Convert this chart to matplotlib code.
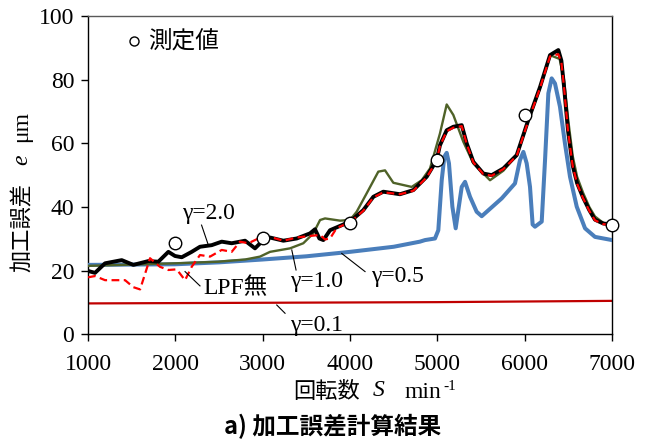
import matplotlib
matplotlib.use("Agg")
import matplotlib.pyplot as plt
from matplotlib.lines import Line2D

plt.rcParams["font.family"] = ["Liberation Serif", "Noto Sans CJK JP"]

# 測定値
meas_s = [2000, 3000, 4000, 5000, 6000, 7000]
meas_e = [28.7, 30.1, 35.0, 54.6, 69.0, 34.3]

# gamma = 2.0
g20_s = [1000, 1080, 1195, 1386, 1519, 1690, 1805, 1920, 1996, 2073, 2187, 2282,
         2416, 2531, 2645, 2798, 2912, 2989, 3084, 3237, 3390, 3542, 3599, 3649,
         3695, 3771, 3848, 4000, 4152, 4267, 4381, 4572, 4725, 4878, 4992, 5030,
         5107, 5183, 5279, 5336, 5412, 5527, 5622, 5756, 5909, 6041, 6176, 6290,
         6385, 6420, 6450, 6496, 6550, 6600, 6668, 6740, 6805, 6900, 7000]
g20_e = [19.9, 19.3, 22.3, 23.3, 21.8, 23.0, 22.8, 25.9, 24.6, 24.2, 25.9, 27.5,
         28.0, 29.1, 28.6, 29.4, 27.0, 29.1, 30.4, 29.4, 30.1, 31.7, 33.0, 30.1,
         29.6, 32.7, 33.6, 35.4, 39.0, 43.2, 44.8, 44.0, 45.3, 49.5, 54.7, 59.4,
         64.1, 65.2, 65.7, 60.0, 54.2, 50.5, 50.0, 52.1, 56.3, 67.3, 77.7, 87.7,
         89.3, 86.0, 78.0, 64.0, 53.0, 47.5, 43.0, 39.0, 36.0, 34.8, 34.5]

# LPF無
raw_s = [1000, 1080, 1195, 1424, 1519, 1596, 1710, 1824, 1920, 2015, 2111, 2187,
         2282, 2397, 2531, 2645, 2740, 2836, 2950, 3084, 3237, 3390, 3542, 3657,
         3714, 3771, 3848, 4000, 4152, 4267, 4381, 4572, 4725, 4878, 4992, 5030,
         5107, 5183, 5279, 5336, 5412, 5527, 5622, 5756, 5909, 6041, 6176, 6290,
         6385, 6420, 6450, 6496, 6550, 6600, 6668, 6740, 6805, 6900, 7000]
raw_e = [17.9, 18.3, 17.0, 17.0, 14.8, 14.1, 23.9, 21.2, 20.2, 20.4, 17.0, 21.2,
         24.9, 24.4, 26.5, 25.9, 29.1, 28.6, 30.1, 30.6, 29.4, 30.4, 30.9, 31.2,
         29.8, 30.1, 33.4, 35.2, 38.8, 43.0, 44.6, 44.0, 45.1, 49.3, 54.5, 59.2,
         63.8, 64.9, 65.4, 59.8, 54.0, 50.3, 49.8, 51.9, 56.1, 67.0, 77.4, 87.3,
         88.0, 85.5, 77.8, 63.8, 52.8, 47.3, 42.8, 38.8, 35.8, 34.6, 34.3]

# gamma = 1.0
g10_s = [1000, 1500, 2000, 2490, 2800, 2969, 3084, 3313, 3465, 3580, 3657, 3714,
         3886, 4000, 4076, 4191, 4324, 4401, 4496, 4706, 4821, 4916, 5030, 5107,
         5183, 5297, 5412, 5603, 5756, 5909, 6041, 6176, 6290, 6400, 6450, 6500,
         6550, 6600, 6668, 6740, 6805, 6900, 7000]
g10_e = [21.5, 21.9, 22.3, 22.8, 23.5, 24.4, 25.9, 27.0, 28.6, 31.7, 35.9, 36.4,
         35.7, 35.9, 38.5, 44.3, 51.1, 51.5, 47.6, 46.3, 48.4, 52.1, 63.1, 72.2,
         68.9, 60.5, 53.7, 48.4, 51.4, 56.3, 67.0, 77.5, 87.7, 86.5, 80.0, 67.0,
         56.0, 49.5, 44.5, 40.0, 37.0, 35.0, 34.3]

# gamma = 0.5
g05_s = [1000, 1500, 2000, 2500, 3000, 3500, 4000, 4500, 4800, 4859, 4973, 5011,
         5050, 5080, 5107, 5133, 5172, 5210, 5240, 5279, 5317, 5374, 5450, 5508,
         5737, 5889, 5946, 5985, 6023, 6061, 6091, 6118, 6195, 6233, 6271, 6309,
         6347, 6404, 6461, 6519, 6596, 6691, 6805, 7000]
g05_e = [21.8, 21.9, 22.0, 22.6, 23.5, 24.5, 25.9, 27.5, 29.1, 29.6, 30.1, 32.7,
         48.4, 55.8, 57.0, 53.7, 40.1, 33.3, 39.0, 46.3, 47.9, 43.2, 38.5, 37.1,
         42.7, 47.4, 54.7, 57.3, 53.7, 46.3, 34.5, 33.8, 35.4, 54.7, 75.7, 80.4,
         78.8, 71.5, 60.0, 49.5, 40.1, 33.3, 30.6, 29.6]

# gamma = 0.1
g01_s = [1000, 2000, 3000, 4000, 5000, 6000, 7000]
g01_e = [9.7, 9.8, 9.9, 10.0, 10.1, 10.3, 10.5]

fig = plt.figure(figsize=(6.54, 4.43), dpi=100)
ax = fig.add_axes([0.1346, 0.2454, 0.8012, 0.7185])

ax.plot(g01_s, g01_e, color="#C00000", lw=1.6, zorder=2)
ax.plot(g05_s, g05_e, color="#4A7EBB", lw=2.9, zorder=3, solid_joinstyle="round")
ax.plot(g10_s, g10_e, color="#4F6228", lw=1.7, zorder=4)
ax.plot(g20_s, g20_e, color="black", lw=2.8, zorder=5, solid_joinstyle="round")
ax.plot(raw_s, raw_e, color="#FF0000", lw=1.6, ls=(0, (3.5, 2)), zorder=6)
ax.plot(meas_s, meas_e, ls="none", marker="o", ms=9, mfc="white", mec="black",
        mew=1.0, zorder=8, clip_on=False)

ax.set_xlim(1000, 7000)
ax.set_ylim(0, 100)
ax.set_xticks(range(1000, 7001, 1000))
ax.set_yticks(range(0, 101, 20))
ax.tick_params(direction="out", length=5, width=1, labelsize=17)
ax.tick_params(axis="x", pad=9)
ax.tick_params(axis="y", pad=5)
for s in ["left", "bottom", "right"]:
    ax.spines[s].set_color("black")
    ax.spines[s].set_linewidth(1)
ax.spines["top"].set_color("#595959")
ax.spines["top"].set_linewidth(1)

# leader labels
cjk = ["Liberation Serif", "Noto Sans CJK JP"]
labels = [
    ("γ=2.0", 2374, 38.1, 2300, 34.3, 2378, 28.0),
    ("γ=1.0", 3611, 16.5, 3333, 26.5, 3382, 20.2),
    ("γ=0.5", 4538, 18.3, 3905, 25.4, 4172, 19.7),
    ("LPF無", 2683, 14.5, 2111, 19.7, 2282, 15.2),
    ("γ=0.1", 3611, 2.9, 3161, 9.2, 3256, 6.6),
]
for txt, tx, ty, x0, y0, x1, y1 in labels:
    ax.text(tx, ty, txt, fontsize=17, ha="center", va="center", family=cjk, zorder=9)
    ax.plot([x0, x1], [y0, y1], color="black", lw=0.8, zorder=9)

handle = Line2D([], [], ls="none", marker="o", ms=6.5, mfc="white", mec="black", mew=1.0)
ax.legend([handle], ["測定値"], loc="upper left", bbox_to_anchor=(0.0744, 0.953),
          frameon=False, borderpad=0, borderaxespad=0, handlelength=0.6,
          handletextpad=0.3, prop={"family": "Noto Sans CJK JP", "size": 17})

# axis labels
fig.text(22 / 654, 1 - 227 / 443, "加工誤差", rotation=90, ha="center", va="center",
         fontsize=16, family="Noto Sans CJK JP")
fig.text(22 / 654, 1 - 160 / 443, "e", rotation=90, ha="center", va="center",
         fontsize=17, family="Liberation Serif", style="italic")
fig.text(22 / 654, 1 - 126 / 443, "μm", rotation=90, ha="center", va="center",
         fontsize=17, family="Liberation Serif")

fig.text(327 / 654, 1 - 392 / 443, "回転数", ha="center", va="center",
         fontsize=16, family="Noto Sans CJK JP")
fig.text(379 / 654, 1 - 391 / 443, "S", ha="center", va="center",
         fontsize=17, family="Liberation Serif", style="italic")
fig.text(405 / 654, 1 - 392 / 443, "min", ha="left", va="center",
         fontsize=17, family="Liberation Serif")
fig.text(443 / 654, 1 - 386 / 443, "-1", ha="left", va="center",
         fontsize=11, family="Liberation Serif")

fig.text(333 / 654, 1 - 426 / 443, "a) 加工誤差計算結果", ha="center", va="center",
         fontsize=17, family="Noto Sans CJK JP", weight="bold")

fig.savefig("out.png", dpi=100)
